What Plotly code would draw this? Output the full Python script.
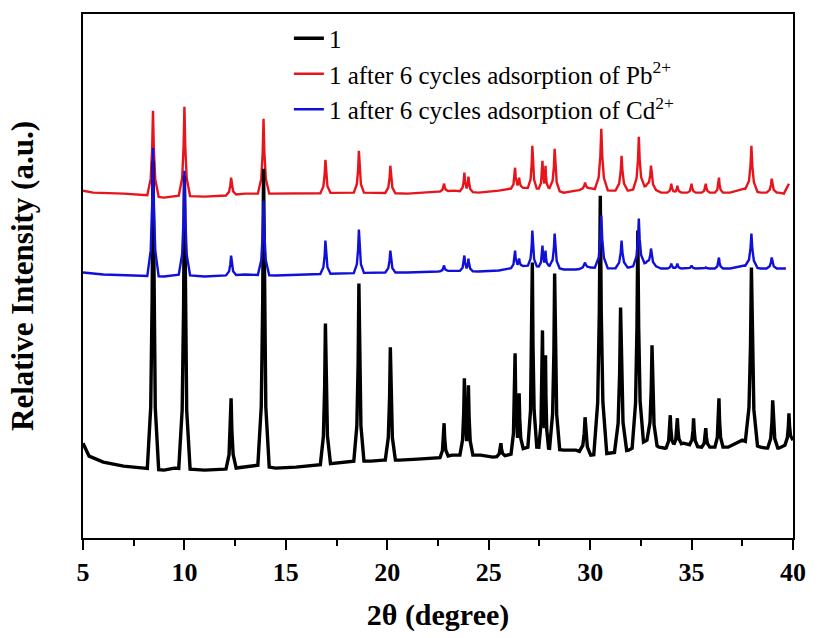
import numpy as np
import plotly.graph_objects as go

# ---------------- data (2θ in degrees, intensity in arbitrary units) ----------------
# Sample 1 (black)
black_base_x = [5.0, 5.3, 6.0, 7.0, 8.0, 9.0, 9.5, 11.0, 12.0, 13.0, 13.6, 14.5, 15.5, 16.5, 17.5,
                18.2, 19.2, 19.8, 20.6, 21.5, 22.5, 23.2, 24.6, 25.2, 26.0, 26.85, 27.45, 27.95,
                28.7, 29.3, 30.0, 31.0, 31.9, 32.8, 33.4, 33.7, 34.6, 35.4, 36.0, 36.8, 37.5,
                38.4, 38.7, 39.3, 39.6, 40.0]
black_base_y = [95, 82, 76, 72, 70, 68, 70, 68, 69, 71, 73, 70, 71, 73, 75,
                77, 77, 78, 78, 79, 80, 83, 83, 81, 83, 91, 91, 90,
                88, 88, 83, 85, 88, 98, 91, 90, 95, 91, 91, 91, 98,
                91, 90, 90, 93, 98]
black_peak_x = [8.45, 10.0, 12.3, 13.9, 16.95, 18.6, 20.15, 22.8, 23.8, 24.0, 25.6, 26.3, 26.5,
                27.15, 27.65, 27.8, 28.25, 29.75, 30.5, 31.5, 32.35, 33.05, 33.95, 34.3, 35.1,
                35.7, 36.35, 37.95, 39.0, 39.8]
black_peak_top = [378, 363, 140, 370, 215, 255, 191, 115, 160, 153, 95, 185, 145,
                  276, 208, 183, 265, 121, 343, 231, 308, 193, 123, 120, 120,
                  110, 140, 271, 138, 125]
black_peak_w = [0.28, 0.28, 0.25, 0.28, 0.25, 0.25, 0.25, 0.2, 0.22, 0.22, 0.2, 0.2, 0.2,
                0.22, 0.18, 0.15, 0.25, 0.28, 0.32, 0.3, 0.28, 0.25, 0.2, 0.2, 0.2,
                0.2, 0.2, 0.3, 0.25, 0.2]

# After 6 cycles of Pb2+ adsorption (red)
red_base_x = [5.0, 5.5, 7.0, 8.0, 9.0, 9.6, 11.0, 12.0, 13.0, 14.5, 16.0, 17.5, 19.5, 21.0, 22.5,
              23.3, 24.5, 25.5, 26.0, 26.85, 27.45, 27.95, 28.7, 29.3, 30.0, 31.0, 31.9, 32.8,
              33.5, 34.6, 35.4, 36.0, 36.9, 37.6, 38.4, 39.3, 39.55, 39.8]
red_base_y = [348, 346, 345, 344, 341, 343, 342, 343, 345, 345, 345, 346, 346, 345, 347,
              348, 346, 348, 350, 351, 350, 351, 346, 348, 350, 348, 348, 353,
              346, 346, 346, 346, 346, 350, 346, 346, 345, 355]
red_peak_x = [8.45, 10.0, 12.3, 13.9, 16.95, 18.6, 20.15, 22.8, 23.8, 24.0, 26.3, 26.5, 27.15,
              27.65, 27.8, 28.25, 29.75, 30.55, 31.55, 32.4, 33.0, 34.0, 34.3, 35.0, 35.7,
              36.35, 37.95, 38.95]
red_peak_top = [428, 432, 361, 420, 379, 388, 373, 355, 366, 362, 371, 361, 393,
                378, 373, 390, 356, 410, 383, 402, 373, 355, 353, 355, 355,
                361, 393, 360]
red_peak_w = [0.28, 0.28, 0.25, 0.28, 0.25, 0.25, 0.25, 0.2, 0.22, 0.22, 0.2, 0.2, 0.22,
              0.18, 0.15, 0.25, 0.28, 0.32, 0.3, 0.28, 0.25, 0.2, 0.2, 0.2, 0.2,
              0.2, 0.3, 0.25]

# After 6 cycles of Cd2+ adsorption (blue)
blue_base_x = [5.0, 6.0, 7.5, 9.0, 9.6, 11.0, 12.0, 13.0, 14.5, 16.0, 17.5, 19.5, 21.0, 22.5,
               23.3, 24.5, 25.5, 26.0, 26.85, 27.45, 27.95, 28.7, 29.3, 30.0, 31.0, 31.9, 32.8,
               33.5, 34.6, 35.4, 36.0, 36.9, 37.6, 38.4, 39.3, 39.65]
blue_base_y = [266, 264, 263, 262, 264, 262, 263, 264, 263, 264, 265, 266, 266, 267,
               268, 267, 268, 270, 273, 272, 273, 269, 269, 271, 270, 271, 276,
               270, 270, 270, 270, 270, 273, 270, 270, 270]
blue_peak_x = [8.45, 10.0, 12.3, 13.9, 16.95, 18.6, 20.15, 22.8, 23.8, 24.0, 26.3, 26.5, 27.15,
               27.65, 27.8, 28.25, 29.75, 30.55, 31.55, 32.4, 33.0, 34.0, 34.3, 35.0, 35.7,
               36.35, 37.95, 38.95]
blue_peak_top = [391, 368, 283, 338, 298, 309, 288, 273, 283, 280, 288, 280, 308,
                 293, 288, 305, 276, 323, 298, 320, 290, 275, 275, 273, 271,
                 281, 305, 281]
blue_peak_w = red_peak_w

x_ticks = [5, 10, 15, 20, 25, 30, 35, 40]
names = ["1",
         "1 after 6 cycles adsorption of Pb<sup>2+</sup>",
         "1 after 6 cycles adsorption of Cd<sup>2+</sup>"]


def build(base_x, base_y, pk_x, pk_top, pk_w):
    bx = np.array(base_x, dtype=float)
    by = np.array(base_y, dtype=float)
    fr = (-1.0, -0.4, -0.15, 0.0, 0.15, 0.4, 1.0)
    lv = (0.0, 0.2, 0.55, 1.0, 0.55, 0.2, 0.0)
    xs = set(base_x)
    for p, w in zip(pk_x, pk_w):
        for f in fr:
            xs.add(round(p + f * w, 4))
    xs = np.array(sorted(x for x in xs if bx[0] <= x <= bx[-1]))
    base = np.interp(xs, bx, by)
    add = np.zeros_like(xs)
    for p, top, w in zip(pk_x, pk_top, pk_w):
        h = top - np.interp(p, bx, by)
        prof = np.interp(xs, [p + f * w for f in fr], [l * h for l in lv], left=0, right=0)
        add = np.maximum(add, prof)
    return xs, base + add


kx, ky = build(black_base_x, black_base_y, black_peak_x, black_peak_top, black_peak_w)
rx, ry = build(red_base_x, red_base_y, red_peak_x, red_peak_top, red_peak_w)
bx_, by_ = build(blue_base_x, blue_base_y, blue_peak_x, blue_peak_top, blue_peak_w)

FONT = "Liberation Serif"

fig = go.Figure()
fig.add_trace(go.Scatter(x=rx, y=ry, mode="lines", name=names[1], legendrank=2,
                         legendgroup="b", line=dict(color="#e8141c", width=2.4)))
fig.add_trace(go.Scatter(x=kx, y=ky, mode="lines", name=names[0], legendrank=1,
                         legendgroup="a", line=dict(color="#000000", width=3.4)))
fig.add_trace(go.Scatter(x=bx_, y=by_, mode="lines", name=names[2], legendrank=3,
                         legendgroup="c", line=dict(color="#1010d8", width=2.4)))

fig.update_layout(
    width=818, height=638, autosize=False,
    margin=dict(l=83, r=18, t=13, b=100),
    paper_bgcolor="white", plot_bgcolor="white",
    font=dict(family=FONT, color="black"),
    showlegend=True,
    legend=dict(x=0.29, y=0.997, xanchor="left", yanchor="top",
                bgcolor="rgba(0,0,0,0)", font=dict(size=25, family=FONT),
                tracegroupgap=4, traceorder="normal"),
    xaxis=dict(range=[5, 40], tickvals=x_ticks, ticks="outside", ticklen=10, tickwidth=2,
               tickcolor="black", showline=True, linewidth=2, linecolor="black", mirror=True,
               showgrid=False, zeroline=False,
               tickfont=dict(size=26, family=FONT, weight="bold"),
               minor=dict(dtick=2.5, ticks="outside", ticklen=6, tickwidth=2, tickcolor="black"),
               title=dict(text="2θ (degree)", font=dict(size=30, family=FONT, weight="bold"),
                          standoff=18)),
    yaxis=dict(range=[0, 525], showticklabels=False, ticks="", showline=True, linewidth=2,
               linecolor="black", mirror=True, showgrid=False, zeroline=False,
               title=dict(text="Relative Intensity (a.u.)",
                          font=dict(size=31, family=FONT, weight="bold"), standoff=38)),
)

fig.write_html("out.html")
